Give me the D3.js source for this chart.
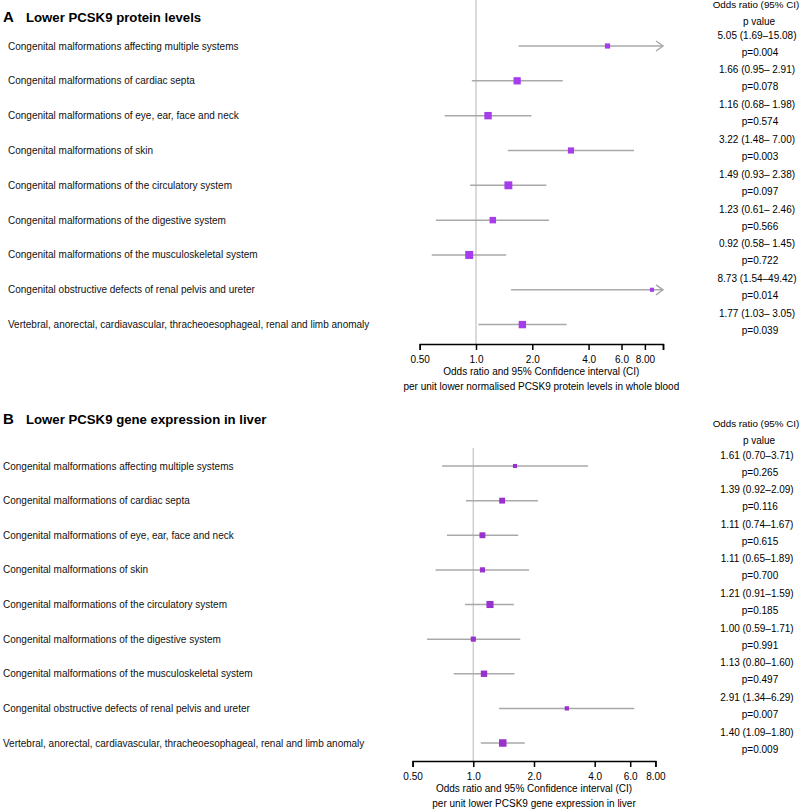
<!DOCTYPE html>
<html>
<head>
<meta charset="utf-8">
<script src="https://cdn.jsdelivr.net/npm/d3@7"></script>
<style>
  html, body { margin: 0; padding: 0; background: #fff; }
  svg { display: block; font-family: "Liberation Sans", Arial, Helvetica, sans-serif; }
</style>
</head>
<body>
<svg id="chart" width="800" height="812"></svg>
<script>
// ---------- data ----------
const categories = [
  "Congenital malformations affecting multiple systems",
  "Congenital malformations of cardiac septa",
  "Congenital malformations of eye, ear, face and neck",
  "Congenital malformations of skin",
  "Congenital malformations of the circulatory system",
  "Congenital malformations of the digestive system",
  "Congenital malformations of the musculoskeletal system",
  "Congenital obstructive defects of renal pelvis and ureter",
  "Vertebral, anorectal, cardiavascular, thracheoesophageal, renal and limb anomaly"
];

// Panel A: lower PCSK9 protein levels
const orA   = [5.05, 1.66, 1.16, 3.22, 1.49, 1.23, 0.92, 8.73, 1.77];
const lowA  = [1.69, 0.95, 0.68, 1.48, 0.93, 0.61, 0.58, 1.54, 1.03];
const highA = [15.08, 2.91, 1.98, 7.00, 2.38, 2.46, 1.45, 49.42, 3.05];
const pA    = ["0.004", "0.078", "0.574", "0.003", "0.097", "0.566", "0.722", "0.014", "0.039"];
const ticksA = [0.5, 1, 2, 4, 6, 8, 10];
const tickLabelsA = ["0.50", "1.0", "2.0", "4.0", "6.0", "8.00", ""];

// Panel B: lower PCSK9 gene expression in liver
const orB   = [1.61, 1.39, 1.11, 1.11, 1.21, 1.00, 1.13, 2.91, 1.40];
const lowB  = [0.70, 0.92, 0.74, 0.65, 0.91, 0.59, 0.80, 1.34, 1.09];
const highB = [3.71, 2.09, 1.67, 1.89, 1.59, 1.71, 1.60, 6.29, 1.80];
const pB    = ["0.265", "0.116", "0.615", "0.700", "0.185", "0.991", "0.497", "0.007", "0.009"];
const ticksB = [0.5, 1, 2, 4, 6, 8];
const tickLabelsB = ["0.50", "1.0", "2.0", "4.0", "6.0", "8.00"];

// ---------- drawing ----------
const svg = d3.select("#chart");
const f2 = d3.format(".2f");
const FS = 10;
const RCX = 756;

function panel(cfg) {
  const g = svg.append("g");
  const n = categories.length;
  const rows = categories.map((c, i) => ({
    label: c, or: cfg.or[i], lo: cfg.lo[i], hi: cfg.hi[i], p: cfg.p[i],
    prec: 3.92 / (Math.log(cfg.hi[i]) - Math.log(cfg.lo[i]))
  }));

  const x = d3.scaleLog().domain(cfg.domain).range(cfg.xRange);
  const y = d3.scalePoint().domain(d3.range(n)).range(cfg.yRange);
  const size = d3.scaleSqrt().domain([0, d3.max(rows, d => d.prec)]).range([0, cfg.maxSide]);
  const xmax = cfg.domain[1];

  // title
  g.append("text").attr("x", 3).attr("y", cfg.titleY)
    .attr("font-size", 15).attr("font-weight", "bold").text(cfg.letter);
  g.append("text").attr("x", 26).attr("y", cfg.titleY)
    .attr("font-size", 13.2).attr("font-weight", "bold").text(cfg.title);

  // header right
  g.append("text").attr("x", RCX).attr("y", cfg.headY).attr("text-anchor", "middle")
    .attr("font-size", 9.8).text("Odds ratio (95% CI)");
  g.append("text").attr("x", RCX + 3).attr("y", cfg.headY + 17).attr("text-anchor", "middle")
    .attr("font-size", FS).text("p value");

  // reference line
  g.append("line")
    .attr("x1", x(1)).attr("x2", x(1))
    .attr("y1", cfg.refTop).attr("y2", cfg.axisY)
    .attr("stroke", "#cfcfcf").attr("stroke-width", 1.5);

  // row labels
  g.selectAll(".lab").data(rows).join("text")
    .attr("x", cfg.labelX).attr("y", (d, i) => y(i) + 3.5)
    .attr("font-size", FS).attr("fill", "#111").text(d => d.label);

  // CI lines
  g.selectAll(".ci").data(rows).join("line")
    .attr("x1", d => x(d.lo)).attr("x2", d => x(Math.min(d.hi, xmax)))
    .attr("y1", (d, i) => y(i)).attr("y2", (d, i) => y(i))
    .attr("stroke", "#a9a9a9").attr("stroke-width", 1.5);

  // arrows for clipped upper limits
  g.selectAll(".arr").data(rows.map((d, i) => ({...d, i})).filter(d => d.hi > xmax)).join("path")
    .attr("d", d => {
      const xe = x(xmax), ye = y(d.i);
      return `M${xe - 7},${ye - 5}L${xe},${ye}L${xe - 7},${ye + 5}`;
    })
    .attr("fill", "none").attr("stroke", "#a9a9a9").attr("stroke-width", 1.5);

  // squares
  g.selectAll(".pt").data(rows).join("rect")
    .attr("x", d => x(d.or) - size(d.prec) / 2)
    .attr("y", (d, i) => y(i) - size(d.prec) / 2)
    .attr("width", d => size(d.prec)).attr("height", d => size(d.prec))
    .attr("fill", cfg.color);

  // right text
  g.selectAll(".ortxt").data(rows).join("text")
    .attr("x", RCX + 1).attr("y", (d, i) => y(i) - 7.5)
    .attr("text-anchor", "middle").attr("font-size", FS)
    .style("white-space", "pre")
    .text(d => `${f2(d.or)} (${f2(d.lo)}–${cfg.pad && d.hi < 10 ? " " : ""}${f2(d.hi)})`);
  g.selectAll(".ptxt").data(rows).join("text")
    .attr("x", RCX + 4).attr("y", (d, i) => y(i) + 9.5)
    .attr("text-anchor", "middle").attr("font-size", FS)
    .text(d => `p=${d.p}`);

  // axis
  const axis = d3.axisBottom(x).tickValues(cfg.ticks)
    .tickFormat((d, i) => cfg.tickLabels[i]).tickSize(6).tickSizeOuter(6);
  const ag = g.append("g").attr("transform", `translate(0,${cfg.axisY})`).call(axis);
  ag.select(".domain").attr("stroke", "#000").attr("stroke-width", 1.5);
  ag.selectAll(".tick line").attr("stroke", "#000").attr("stroke-width", 1.5);
  ag.selectAll(".tick text").attr("font-size", FS).attr("fill", "#000")
    .attr("font-family", "Liberation Sans, Arial, sans-serif").attr("dy", "0.95em");

  const cx = (cfg.xRange[0] + cfg.xRange[1]) / 2;
  g.append("text").attr("x", cx).attr("y", cfg.axisY + 31).attr("text-anchor", "middle")
    .attr("font-size", FS).text("Odds ratio and 95% Confidence interval (CI)");
  g.append("text").attr("x", cx).attr("y", cfg.axisY + 46).attr("text-anchor", "middle")
    .attr("font-size", FS).text(cfg.xlabel2);
}

panel({
  letter: "A", title: "Lower PCSK9 protein levels", titleY: 22, headY: 8,
  or: orA, lo: lowA, hi: highA, p: pA, pad: true,
  domain: [0.5, 10], xRange: [419.7, 663], yRange: [46, 324.6],
  ticks: ticksA, tickLabels: tickLabelsA, axisY: 344, refTop: 0,
  labelX: 8, maxSide: 8, color: "#a63cec",
  xlabel2: "per unit lower normalised PCSK9 protein levels in whole blood"
});

panel({
  letter: "B", title: "Lower PCSK9 gene expression in liver", titleY: 424, headY: 427,
  or: orB, lo: lowB, hi: highB, p: pB, pad: false,
  domain: [0.5, 8], xRange: [412.6, 655.4], yRange: [466, 743],
  ticks: ticksB, tickLabels: tickLabelsB, axisY: 761, refTop: 448,
  labelX: 3, maxSide: 7.5, color: "#9932cc",
  xlabel2: "per unit lower PCSK9 gene expression in liver"
});
</script>
</body>
</html>
